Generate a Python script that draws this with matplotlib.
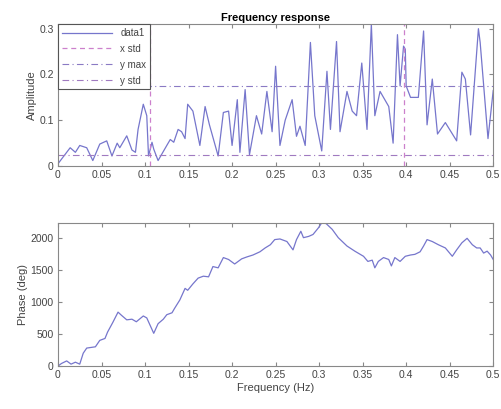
import matplotlib
matplotlib.use("Agg")
import matplotlib.pyplot as plt

plt.rcParams['font.family'] = ['Liberation Sans', 'DejaVu Sans']

# amplitude spectrum
freq_amp = [0.0, 0.014, 0.02, 0.025, 0.033, 0.04, 0.048, 0.056, 0.062, 0.068,
            0.071, 0.079, 0.085, 0.089, 0.092, 0.098, 0.102, 0.104, 0.108, 0.11,
            0.115, 0.125, 0.129, 0.133, 0.138, 0.142, 0.146, 0.149, 0.155, 0.163,
            0.169, 0.174, 0.184, 0.19, 0.196, 0.2, 0.206, 0.209, 0.215, 0.22,
            0.228, 0.234, 0.24, 0.246, 0.25, 0.255, 0.261, 0.269, 0.274, 0.278,
            0.284, 0.29, 0.295, 0.303, 0.309, 0.313, 0.32, 0.324, 0.332, 0.338,
            0.343, 0.349, 0.355, 0.36, 0.364, 0.37, 0.38, 0.385, 0.39, 0.393,
            0.397, 0.399, 0.4, 0.405, 0.414, 0.42, 0.424, 0.43, 0.436, 0.445,
            0.458, 0.464, 0.468, 0.474, 0.483, 0.485, 0.494, 0.5]
amp = [0.005, 0.04, 0.03, 0.045, 0.04, 0.012, 0.048, 0.055, 0.022, 0.05,
       0.04, 0.066, 0.035, 0.03, 0.08, 0.135, 0.11, 0.022, 0.052, 0.037,
       0.012, 0.045, 0.058, 0.052, 0.08, 0.075, 0.06, 0.135, 0.12, 0.045,
       0.13, 0.09, 0.022, 0.117, 0.12, 0.045, 0.145, 0.03, 0.167, 0.025,
       0.11, 0.07, 0.163, 0.075, 0.218, 0.045, 0.1, 0.145, 0.065, 0.087,
       0.045, 0.27, 0.11, 0.033, 0.207, 0.08, 0.272, 0.075, 0.163, 0.12,
       0.11, 0.225, 0.08, 0.31, 0.11, 0.163, 0.13, 0.05, 0.287, 0.175,
       0.262, 0.255, 0.175, 0.15, 0.15, 0.295, 0.09, 0.19, 0.07, 0.095,
       0.055, 0.205, 0.19, 0.068, 0.3, 0.27, 0.06, 0.165]

x_std = [0.106, 0.397]
y_max = 0.175
y_std = 0.025

# phase
freq_ph = [0.0, 0.004, 0.01, 0.015, 0.02, 0.025, 0.029, 0.033, 0.043, 0.048,
           0.054, 0.057, 0.063, 0.069, 0.073, 0.079, 0.085, 0.09, 0.098, 0.102,
           0.11, 0.115, 0.121, 0.125, 0.131, 0.134, 0.14, 0.146, 0.149, 0.155,
           0.161, 0.167, 0.173, 0.178, 0.184, 0.19, 0.196, 0.203, 0.211, 0.217,
           0.224, 0.232, 0.238, 0.244, 0.249, 0.255, 0.263, 0.27, 0.274, 0.279,
           0.282, 0.288, 0.293, 0.299, 0.303, 0.308, 0.315, 0.322, 0.332, 0.341,
           0.351, 0.356, 0.361, 0.364, 0.368, 0.374, 0.38, 0.383, 0.387, 0.393,
           0.399, 0.405, 0.41, 0.416, 0.42, 0.424, 0.43, 0.437, 0.445, 0.453,
           0.458, 0.464, 0.47, 0.476, 0.481, 0.485, 0.489, 0.493, 0.497, 0.5]
phase = [0, 40, 80, 30, 60, 30, 200, 280, 300, 400,
         430, 530, 680, 840, 790, 720, 730, 690, 780, 750,
         510, 660, 730, 800, 830, 900, 1030, 1210, 1180, 1280,
         1370, 1400, 1390, 1550, 1530, 1690, 1660, 1590, 1670, 1700,
         1730, 1780, 1840, 1890, 1970, 1980, 1940, 1810, 1970, 2100,
         2000, 2020, 2050, 2150, 2230, 2220, 2130, 2000, 1870, 1790,
         1710, 1630, 1650, 1530, 1630, 1690, 1660, 1560, 1690, 1630,
         1710, 1730, 1740, 1780, 1870, 1970, 1940, 1890, 1840, 1710,
         1810, 1920, 1990, 1890, 1840, 1840, 1760, 1790, 1730, 1660]

line_c = '#7676cc'
frame_c = '#888888'
text_c = '#444444'

fig = plt.figure(figsize=(5.02, 4.09), dpi=100)
ax1 = fig.add_axes([0.1155, 0.594, 0.867, 0.347])
ax2 = fig.add_axes([0.1155, 0.105, 0.867, 0.35])

ax1.plot(freq_amp, amp, color=line_c, lw=0.9, label='data1')
for i, xv in enumerate(x_std):
    ax1.axvline(xv, color='#cc80cc', lw=0.9, ls=(0, (4, 3)),
                label='x std' if i == 0 else None)
ax1.axhline(y_max, color='#8a7ac4', lw=0.8, ls=(0, (6, 3, 1, 3)), label='y max')
ax1.axhline(y_std, color='#a07ac0', lw=0.8, ls=(0, (6, 3, 1, 3)), label='y std')
ax1.set_xlim(0, 0.5)
ax1.set_ylim(0, 0.31)
ax1.set_yticks([0, 0.1, 0.2, 0.3])
ax1.set_yticklabels(['0', '0.1', '0.2', '0.3'])
ax1.set_ylabel('Amplitude', fontsize=8, color=text_c, labelpad=2)
ax1.set_title('Frequency response', fontsize=8, fontweight='bold', pad=2)
leg = ax1.legend(loc='upper left', fontsize=7, frameon=True, fancybox=False,
                 borderpad=0.4, handlelength=5.2, labelspacing=0.6,
                 handletextpad=0.8, borderaxespad=0.0, framealpha=1)
leg.get_frame().set_edgecolor('#555555')
leg.get_frame().set_linewidth(0.8)
for t in leg.get_texts():
    t.set_color(text_c)

ax2.plot(freq_ph, phase, color=line_c, lw=0.9)
ax2.set_xlim(0, 0.5)
ax2.set_ylim(0, 2230)
ax2.set_yticks([0, 500, 1000, 1500, 2000])
ax2.set_ylabel('Phase (deg)', fontsize=8, color=text_c, labelpad=2)
ax2.set_xlabel('Frequency (Hz)', fontsize=8, color=text_c, labelpad=2)

xt = [0, 0.05, 0.1, 0.15, 0.2, 0.25, 0.3, 0.35, 0.4, 0.45, 0.5]
xtl = ['0', '0.05', '0.1', '0.15', '0.2', '0.25', '0.3', '0.35', '0.4', '0.45', '0.5']
for ax in (ax1, ax2):
    ax.set_xticks(xt)
    ax.set_xticklabels(xtl)
    ax.tick_params(direction='in', top=True, right=True, length=3,
                   labelsize=7.5, colors=frame_c, labelcolor=text_c, pad=3)
    for s in ax.spines.values():
        s.set_color(frame_c)
        s.set_linewidth(0.8)

fig.savefig('out.png', dpi=100)
